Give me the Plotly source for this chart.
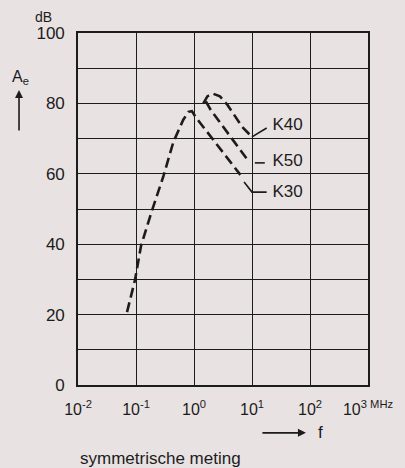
import plotly.graph_objects as go

# ---- data (frequency in MHz, attenuation in dB) ----
k30_f = [0.070, 0.096, 0.122, 0.187, 0.298, 0.44, 0.65, 0.80, 0.92, 1.08, 6.3]
k30_db = [20.7, 29.8, 39.5, 49.4, 59.4, 69.0, 75.3, 77.6, 77.8, 76.0, 59.7]

k40_f = [1.45, 1.7, 2.1, 2.8, 3.8, 6.8, 9.3]
k40_db = [80.0, 82.0, 82.8, 82.0, 79.5, 73.3, 71.0]

k50_f = [1.6, 1.95, 8.9]
k50_db = [80.6, 78.1, 63.4]

# label leader lines
lead40_f = [10.0, 17.9]
lead40_db = [70.5, 73.0]
lead50_f = [11.2, 16.6]
lead50_db = [63.1, 63.1]
lead30_f = [7.3, 10.0, 17.9]
lead30_db = [57.7, 54.8, 54.8]

label_names = ["K40", "K50", "K30"]
label_f = [22.5, 22.5, 22.5]
label_db = [73.6, 63.4, 54.5]

x_tickvals = [0.01, 0.1, 1, 10, 100, 1000]
x_ticktext = ["10<sup>-2</sup>", "10<sup>-1</sup>", "10<sup>0</sup>",
              "10<sup>1</sup>", "10<sup>2</sup>", "10<sup>3 MHz</sup>"]
y_tickvals = [0, 20, 40, 60, 80, 100]

INK = "#1c1c1c"
BG = "#e9e2e2"
FONT = "Liberation Sans"

fig = go.Figure()
dash_style = dict(color=INK, width=2.6, dash="10px,5px")
for fx, fy in [(k30_f, k30_db), (k40_f, k40_db), (k50_f, k50_db)]:
    fig.add_trace(go.Scatter(x=fx, y=fy, mode="lines", line=dash_style,
                             hoverinfo="skip", showlegend=False))
for fx, fy in [(lead40_f, lead40_db), (lead50_f, lead50_db), (lead30_f, lead30_db)]:
    fig.add_trace(go.Scatter(x=fx, y=fy, mode="lines", line=dict(color=INK, width=1.6),
                             hoverinfo="skip", showlegend=False))
fig.add_trace(go.Scatter(x=label_f, y=label_db, mode="text", text=label_names,
                         textposition="middle right", textfont=dict(size=17, color=INK, family=FONT),
                         hoverinfo="skip", showlegend=False, cliponaxis=False))

fig.update_layout(
    width=405, height=468,
    margin=dict(l=78, r=32, t=33, b=83),
    paper_bgcolor=BG, plot_bgcolor=BG,
    font=dict(family=FONT, color=INK, size=15),
    xaxis=dict(type="log", range=[-2, 3], tickvals=x_tickvals, ticktext=x_ticktext,
               showgrid=True, gridcolor=INK, gridwidth=1.4, zeroline=False,
               showline=True, linecolor=INK, linewidth=1.6, mirror=True,
               ticks="outside", ticklen=9, tickcolor="rgba(0,0,0,0)",
               tickfont=dict(size=16)),
    yaxis=dict(range=[0, 100], tickvals=y_tickvals,
               showgrid=True, gridcolor=INK, gridwidth=1.4, zeroline=False,
               minor=dict(tick0=0, dtick=10, showgrid=True, gridcolor=INK, gridwidth=1.4),
               showline=True, linecolor=INK, linewidth=1.6, mirror=True,
               ticks="outside", ticklen=8, tickcolor="rgba(0,0,0,0)",
               tickfont=dict(size=17)),
)

fig.add_annotation(text="dB", xref="paper", yref="paper", x=-0.1186, y=1.045,
                   xanchor="center", yanchor="middle", showarrow=False, font=dict(size=14))
fig.add_annotation(text="A<sub>e</sub>", xref="paper", yref="paper", x=-0.2, y=0.875,
                   xanchor="center", yanchor="middle", showarrow=False, font=dict(size=16))
fig.add_annotation(text="", xref="paper", yref="paper", x=-0.2034, y=0.838,
                   ax=0, ay=42, showarrow=True, arrowhead=2, arrowsize=1, arrowwidth=1.6, arrowcolor=INK)
fig.add_annotation(text="", xref="paper", yref="paper", x=0.786, y=-0.136,
                   ax=-45, ay=0, showarrow=True, arrowhead=2, arrowsize=1, arrowwidth=1.6, arrowcolor=INK)
fig.add_annotation(text="f", xref="paper", yref="paper", x=0.835, y=-0.136,
                   xanchor="center", yanchor="middle", showarrow=False, font=dict(size=17))
fig.add_annotation(text="symmetrische meting", xref="paper", yref="paper", x=0.0, y=-0.21,
                   xanchor="left", yanchor="middle", showarrow=False, font=dict(size=17))

fig.write_html("out.html", config={"displayModeBar": False},
               post_script="document.body.style.margin='0';document.body.style.background='" + BG + "';")
